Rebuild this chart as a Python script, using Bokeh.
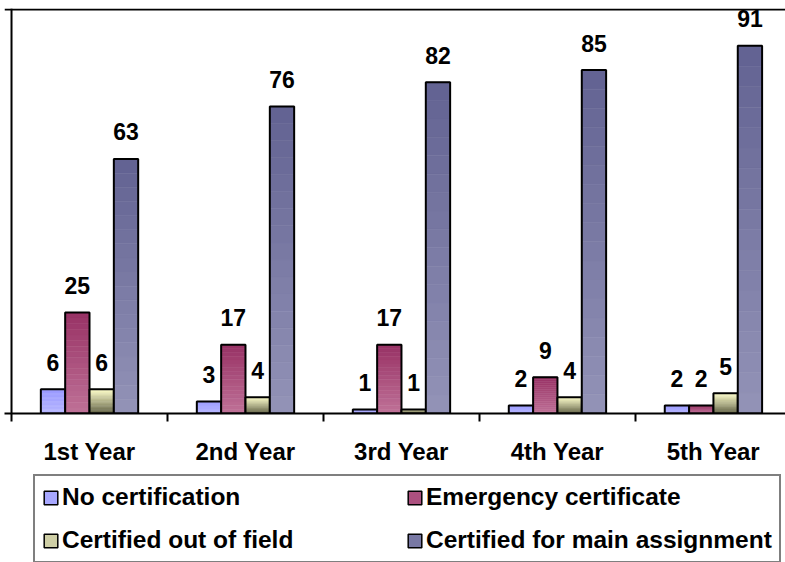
import numpy as np
from bokeh.plotting import figure
from bokeh.layouts import column
from bokeh.models import (ColumnDataSource, FixedTicker, Span, Legend, LegendItem, Range1d)
from bokeh.core.properties import value
from bokeh.embed import file_html
from bokeh.resources import INLINE

# ---- data ----
categories = ["1st Year", "2nd Year", "3rd Year", "4th Year", "5th Year"]
series_names = ["No certification", "Emergency certificate",
                "Certified out of field", "Certified for main assignment"]
no_certification = [6, 3, 1, 2, 2]
emergency_certificate = [25, 17, 17, 9, 2]
certified_out_of_field = [6, 4, 1, 4, 5]
certified_main_assignment = [63, 76, 82, 85, 91]
series_values = [no_certification, emergency_certificate,
                 certified_out_of_field, certified_main_assignment]

# ---- style ----
gradients = [("#9A9AFF", "#B6B6FF"), ("#993366", "#BE7096"),
             ("#FFFFCC", "#67674A"), ("#636393", "#9292B6")]
legend_colors = ["#A8A8FF", "#AC507F", "#CFCFA6", "#7878A4"]
FONT = "Liberation Sans"
BAR_W = 0.156
N_BANDS = 18


def hex2rgb(h):
    h = h.lstrip("#")
    return [int(h[i:i + 2], 16) for i in (0, 2, 4)]


def lerp(c0, c1, t):
    a, b = hex2rgb(c0), hex2rgb(c1)
    return "#%02x%02x%02x" % tuple(int(round(a[i] + (b[i] - a[i]) * t)) for i in range(3))


p = figure(width=785, height=470, output_backend="svg", toolbar_location=None,
           x_range=Range1d(-0.045, 4.962), y_range=Range1d(0, 100.25),
           y_axis_location=None, min_border_left=4, min_border_right=0,
           min_border_top=8, min_border_bottom=57)
p.outline_line_color = None
p.xgrid.visible = False
p.ygrid.visible = False

centers = np.arange(len(categories)) + 0.5
for k, vals in enumerate(series_values):
    xc = centers + (k - 1.5) * BAR_W
    left, right, bottom, top, col = [], [], [], [], []
    c_top, c_bot = gradients[k]
    for x, v in zip(xc, vals):
        for j in range(N_BANDS):
            left.append(x - BAR_W / 2)
            right.append(x + BAR_W / 2)
            top.append(v * (N_BANDS - j) / N_BANDS)
            bottom.append(v * (N_BANDS - j - 1) / N_BANDS)
            col.append(lerp(c_top, c_bot, j / (N_BANDS - 1)))
    bands = ColumnDataSource(dict(left=left, right=right, bottom=bottom, top=top, color=col))
    p.quad(left="left", right="right", bottom="bottom", top="top", source=bands,
           fill_color="color", line_color="color", line_width=0.6)
    outline = ColumnDataSource(dict(left=xc - BAR_W / 2, right=xc + BAR_W / 2,
                                    bottom=np.zeros(len(vals)), top=vals))
    p.quad(left="left", right="right", bottom="bottom", top="top", source=outline,
           fill_color=None, line_color="black", line_width=2)
    labels = ColumnDataSource(dict(x=xc, y=vals, text=[str(v) for v in vals]))
    p.text(x="x", y="y", text="text", source=labels, text_align="center",
           text_baseline="alphabetic", y_offset=-27, text_font=value(FONT),
           text_font_style="bold", text_font_size="23px", text_color="black")

# plot area borders (left, top)
p.add_layout(Span(location=0, dimension="height", line_color="black", line_width=2))
p.add_layout(Span(location=100, dimension="width", line_color="black", line_width=2))

xa = p.xaxis[0]
xa.ticker = FixedTicker(ticks=list(centers), minor_ticks=list(range(len(categories) + 1)))
xa.major_label_overrides = {float(c): lab for c, lab in zip(centers, categories)}
xa.major_tick_line_color = None
xa.major_tick_out = 0
xa.major_tick_in = 0
xa.minor_tick_out = 8
xa.minor_tick_in = 0
xa.minor_tick_line_color = "black"
xa.minor_tick_line_width = 2
xa.axis_line_color = "black"
xa.axis_line_width = 2
xa.major_label_standoff = 16
xa.major_label_text_font = FONT
xa.major_label_text_font_style = "bold"
xa.major_label_text_font_size = "24px"
xa.major_label_text_color = "black"

# ---- legend panel ----
lg = figure(width=785, height=92, output_backend="svg", toolbar_location=None,
            x_range=Range1d(0, 1), y_range=Range1d(0, 1),
            x_axis_location=None, y_axis_location=None,
            min_border_left=0, min_border_right=0, min_border_top=0, min_border_bottom=0)
lg.outline_line_color = None
lg.xgrid.visible = False
lg.ygrid.visible = False
proxies = {}
for k, name in enumerate(series_names):
    # legend swatch only: a single undefined (NaN) point, nothing drawn in the frame
    proxies[name] = lg.quad(left=[np.nan], right=[np.nan], bottom=[np.nan], top=[np.nan],
                            fill_color=legend_colors[k], line_color="black", line_width=1.5)

# row-major order like the original: (No cert, Emergency) / (Out of field, Main)
legend_order = [series_names[0], series_names[2], series_names[1], series_names[3]]
legend = Legend(items=[LegendItem(label=n, renderers=[proxies[n]]) for n in legend_order],
                ncols=2, location=(29, -1), margin=0, padding=7, spacing=15,
                label_standoff=3, glyph_width=17, glyph_height=17, label_width=329,
                label_height=20, label_text_font=FONT, label_text_font_style="bold",
                label_text_font_size="24.5px", label_text_color="black",
                border_line_color="black", border_line_width=2,
                background_fill_color="white", background_fill_alpha=1)
lg.add_layout(legend, "center")

layout = column(p, lg, spacing=0)
open("out.html", "w").write(file_html(layout, INLINE))
